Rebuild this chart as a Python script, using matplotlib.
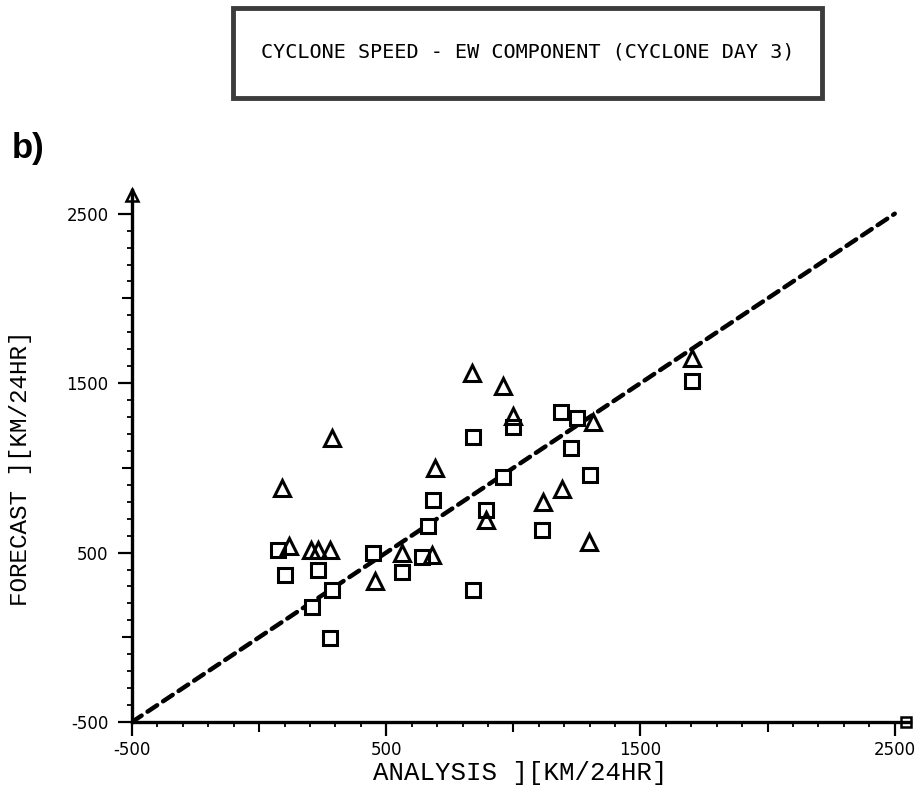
import matplotlib
matplotlib.use("Agg")
import matplotlib.pyplot as plt
from matplotlib.patches import Rectangle
from matplotlib.markers import TICKDOWN, TICKLEFT
import numpy as np

# ---- data (analysis, forecast) in km/24hr ----
tri_x = [90, 117, 204, 231, 279, 286, 456, 562, 680, 692, 837, 892, 959, 998,
         1116, 1191, 1297, 1313, 1702]
tri_y = [879, 537, 514, 514, 514, 1179, 331, 496, 484, 997, 1557, 690, 1486, 1309,
         796, 873, 561, 1268, 1651]

sq_x = [74, 102, 208, 231, 279, 286, 448, 562, 640, 664, 684, 841, 841, 892,
        959, 998, 1112, 1187, 1226, 1250, 1301, 1702]
sq_y = [514, 366, 178, 396, -5, 278, 496, 384, 472, 655, 808, 278, 1185, 749,
        944, 1244, 631, 1327, 1120, 1297, 956, 1515]

line_x = [-500, 2500]
line_y = [-500, 2500]

tick_vals = [-500, 500, 1500, 2500]
tick_labels = ["-500", "500", "1500", "2500"]
mid_ticks = [0, 1000, 2000]

title = "CYCLONE SPEED - EW COMPONENT (CYCLONE DAY 3)"
xlabel = "ANALYSIS ][KM/24HR]"
ylabel = "FORECAST ][KM/24HR]"
panel = "b)"

W, H = 922, 795
fig = plt.figure(figsize=(W / 100, H / 100), dpi=100)
fig.patch.set_facecolor("white")

# axes: origin at pixel (132,722), x extends to 910 px, y up to 190 px
x0, y0, x1, y1 = 132, 722, 910, 190
ax = fig.add_axes([x0 / W, 1 - y0 / H, (x1 - x0) / W, (y0 - y1) / H])
ax.set_xlim(-500, 2560)
ax.set_ylim(-500, 2640)
for s in ["top", "right"]:
    ax.spines[s].set_visible(False)
for s in ["left", "bottom"]:
    ax.spines[s].set_linewidth(2.4)
    ax.spines[s].set_color("black")

ax.set_xticks(tick_vals)
ax.set_xticklabels(tick_labels)
ax.set_yticks(tick_vals)
ax.set_yticklabels(tick_labels)
ax.set_xticks(np.arange(-500, 2501, 100), minor=True)
ax.set_yticks(np.arange(-500, 2501, 100), minor=True)
ax.tick_params(which="major", direction="out", length=10, width=1.6,
               labelsize=12, colors="black")
ax.tick_params(axis="x", which="major", pad=4)
ax.tick_params(axis="y", which="major", pad=7)
ax.tick_params(which="minor", direction="out", length=3.5, width=1.3)
for lab in ax.get_xticklabels() + ax.get_yticklabels():
    lab.set_fontfamily("DejaVu Sans")

# medium ticks at 0, 1000, 2000
ax.plot(mid_ticks, [-500] * len(mid_ticks), linestyle="none", marker=TICKDOWN,
        markersize=7, mew=1.5, color="black", clip_on=False)
ax.plot([-500] * len(mid_ticks), mid_ticks, linestyle="none", marker=TICKLEFT,
        markersize=7, mew=1.5, color="black", clip_on=False)

# identity dashed line
ax.plot(line_x, line_y, color="black", lw=3.2, dashes=(2.6, 1.6),
        dash_capstyle="round", zorder=2)

ax.plot(sq_x, sq_y, linestyle="none", marker="s", markersize=10.5,
        markerfacecolor="white", markeredgecolor="black", markeredgewidth=2.2,
        zorder=3)
ax.plot(tri_x, tri_y, linestyle="none", marker="^", markersize=11,
        markerfacecolor="none", markeredgecolor="black", markeredgewidth=2.2,
        zorder=4)

# axis end markers
ax.plot([-500], [2610], marker="^", markersize=8, mfc="none", mec="black",
        mew=1.8, clip_on=False, zorder=5)
ax.plot([2545], [-500], marker="s", markersize=7, mfc="none", mec="black",
        mew=1.8, clip_on=False, zorder=5)

ax.set_xlabel(xlabel, family="Liberation Mono", fontsize=18.5)
ax.set_ylabel(ylabel, family="Liberation Mono", fontsize=17.5)
ax.xaxis.set_label_coords((520 - x0) / (x1 - x0), -(761 - y0) / (y0 - y1))
ax.yaxis.set_label_coords(-(x0 - 32) / (x1 - x0), (y0 - 468) / (y0 - y1))

# title box
bx0, by0, bx1, by1 = 233, 8, 822, 98
fig.patches.append(Rectangle((bx0 / W, 1 - by1 / H), (bx1 - bx0) / W,
                             (by1 - by0) / H, transform=fig.transFigure,
                             facecolor="white", edgecolor="#3c3c3c",
                             linewidth=3.5))
fig.text((bx0 + bx1) / 2 / W, 1 - 52 / H, title, family="DejaVu Sans Mono",
         fontsize=14.5, ha="center", va="center", color="black")

fig.text(12 / W, 1 - 158 / H, panel, family="Liberation Sans",
         fontweight="bold", fontsize=25, ha="left", va="baseline")

fig.savefig("out.png", dpi=100)
